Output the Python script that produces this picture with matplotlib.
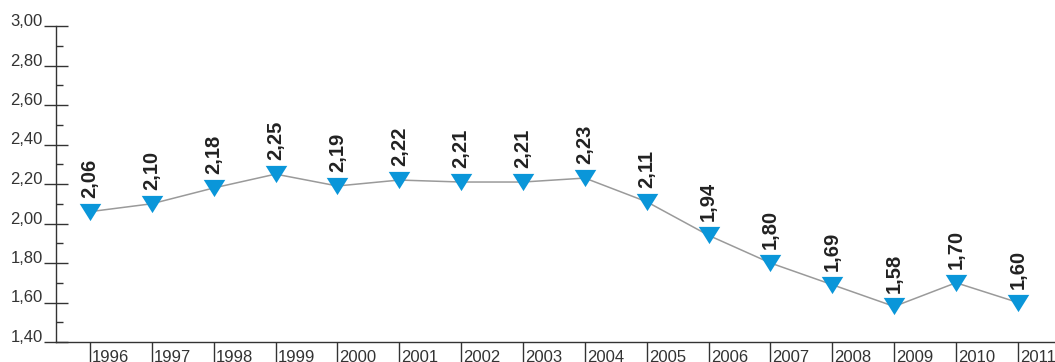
import matplotlib
matplotlib.use("Agg")
import matplotlib.pyplot as plt
from matplotlib.ticker import MultipleLocator, FixedLocator
import matplotlib.transforms as mtransforms

years = [1996, 1997, 1998, 1999, 2000, 2001, 2002, 2003, 2004, 2005,
         2006, 2007, 2008, 2009, 2010, 2011]
values = [2.06, 2.10, 2.18, 2.25, 2.19, 2.22, 2.21, 2.21, 2.23, 2.11,
          1.94, 1.80, 1.69, 1.58, 1.70, 1.60]
y_ticks = [1.40, 1.60, 1.80, 2.00, 2.20, 2.40, 2.60, 2.80, 3.00]

def fmt(v):
    return f"{v:.2f}".replace(".", ",")

plt.rcParams['font.family'] = ['Liberation Sans', 'DejaVu Sans']

fig = plt.figure(figsize=(10.55, 3.62), dpi=100)
ax = fig.add_axes([56 / 1055, 20 / 362, 1 - 56 / 1055, (342 - 26) / 362])

ax.plot(years, values, color='#9a9a9a', lw=1.1, zorder=2)
tri = [(-1, 0.8), (1, 0.8), (0, -0.8)]
ax.plot(years, values, linestyle='none', marker=tri, markersize=15.5,
        color='#0a96d9', markeredgewidth=0, zorder=3)

for x, v in zip(years, values):
    ax.annotate(fmt(v), xy=(x, v), xytext=(0, 10), textcoords='offset points',
                rotation=90, ha='center', va='bottom', fontsize=14.5,
                fontweight='bold', color='#222222')

ax.set_xlim(1995.45, 2011.6)
ax.set_ylim(1.40, 3.00)

for s in ['top', 'right']:
    ax.spines[s].set_visible(False)
for s in ['left', 'bottom']:
    ax.spines[s].set_color('#333333')
    ax.spines[s].set_linewidth(1.0)

ax.yaxis.set_major_locator(FixedLocator(y_ticks))
ax.set_yticklabels([fmt(t) for t in y_ticks])
ax.yaxis.set_minor_locator(MultipleLocator(0.1))
ax.tick_params(axis='y', which='major', direction='inout', length=17, width=1,
               color='#333333', labelsize=12, labelcolor='#333333', pad=1)
ax.tick_params(axis='y', which='minor', direction='in', length=5, width=1,
               color='#333333')
for lab in ax.get_yticklabels():
    lab.set_va('baseline')

ax.xaxis.set_major_locator(FixedLocator(years))
ax.set_xticklabels([])
ax.tick_params(axis='x', which='major', direction='out', length=22, width=1,
               color='#333333')

trans = mtransforms.blended_transform_factory(ax.transData, ax.transAxes)
for x in years:
    ax.annotate(str(x), xy=(x, 0), xycoords=trans, xytext=(1.5, -6),
                textcoords='offset points', ha='left', va='top',
                fontsize=12, color='#333333')

fig.savefig('out.png', dpi=100)
